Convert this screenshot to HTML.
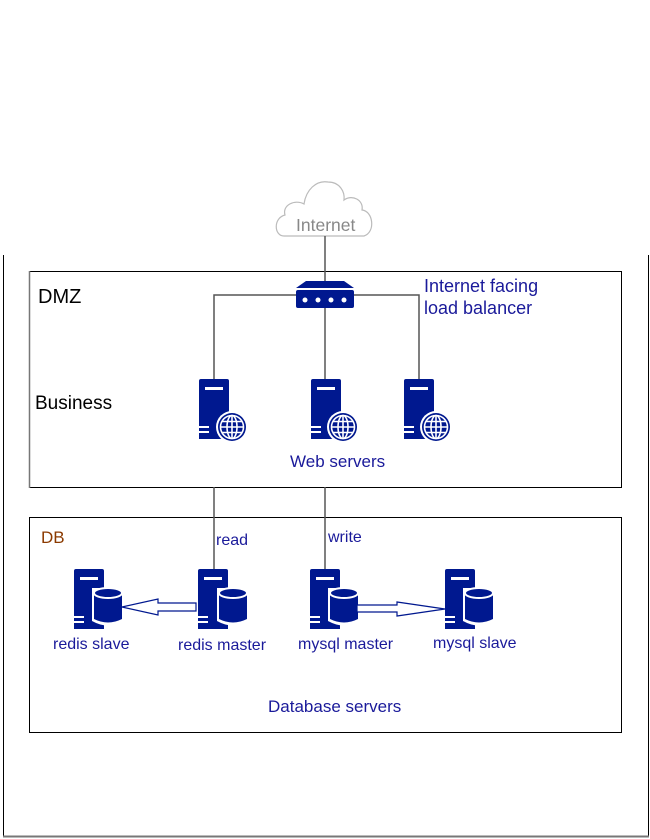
<!DOCTYPE html>
<html><head><meta charset="utf-8"><style>
html,body{margin:0;padding:0;background:#fff;width:650px;height:839px;overflow:hidden}
svg text{font-family:"Liberation Sans",sans-serif}
</style></head><body>
<svg width="650" height="839" viewBox="0 0 650 839" xmlns="http://www.w3.org/2000/svg">
<defs>
<g id="srv">
 <path d="M0,2 Q0,0 2,0 H28 Q30,0 30,2 V60 H0 Z" fill="#00188f"/>
 <rect x="6" y="8" width="18" height="3" fill="#fff"/>
 <rect x="0" y="47" width="10" height="2" fill="#fff"/>
 <rect x="0" y="52" width="10" height="2" fill="#fff"/>
</g>
<g id="globe">
 <circle r="16" fill="#fff"/>
 <circle r="14" fill="#00188f"/>
 <g fill="none" stroke="#fff" stroke-width="1.6">
  <circle r="11.5"/>
  <ellipse rx="5" ry="11.5"/>
  <line x1="0" y1="-11.5" x2="0" y2="11.5"/>
  <line x1="-11.5" y1="0" x2="11.5" y2="0"/>
  <line x1="-10" y1="-5.5" x2="10" y2="-5.5"/>
  <line x1="-10" y1="5.5" x2="10" y2="5.5"/>
 </g>
</g>
<g id="cyl">
 <path d="M-16,-17 V16 Q0,25 16,16 V-17 Z" fill="#fff"/>
 <path d="M-14,-12 V14 Q0,21 14,14 V-12 Z" fill="#00188f"/>
 <ellipse cx="0" cy="-12" rx="14" ry="5" fill="#00188f" stroke="#fff" stroke-width="2"/>
</g>
</defs>

<path d="M3.5,255 V836.5 H648.5 V255" fill="none" stroke="#000" stroke-width="1"/>
<line x1="3" y1="836.5" x2="649" y2="836.5" stroke="#777" stroke-width="2"/>

<rect x="29.5" y="271.5" width="592" height="216" fill="none" stroke="#000"/>
<line x1="29.5" y1="271" x2="29.5" y2="488" stroke="#777" stroke-width="1.5"/>
<rect x="29.5" y="517.5" width="592" height="215" fill="none" stroke="#000"/>

<path d="M284,236 C274,236 273,218 285,215 C282,205 295,199 304,204 C306,190 316,180 328,182 C340,182 345,192 344,200 C352,194 364,200 362,210 C373,211 376,232 364,236 Z" fill="#fff" stroke="#bbb" stroke-width="1.2"/>
<text x="296" y="231" font-size="17.5" fill="#888">Internet</text>

<g stroke="#555" stroke-width="1.5" fill="none">
 <line x1="325" y1="236" x2="325" y2="282"/>
 <polyline points="214,379 214,295 419,295 419,379"/>
 <line x1="325" y1="295" x2="325" y2="379"/>
 <line x1="214" y1="487" x2="214" y2="570"/>
 <line x1="325" y1="487" x2="325" y2="570"/>
</g>

<path d="M296,288 L306,281 H344 L354,288 Z" fill="#00188f"/>
<rect x="296" y="290" width="58" height="18" rx="2" fill="#00188f"/>
<g fill="#fff"><circle cx="305" cy="300" r="2.5"/><circle cx="318" cy="300" r="2.5"/><circle cx="331" cy="300" r="2.5"/><circle cx="344" cy="300" r="2.5"/></g>

<use href="#srv" x="199" y="379"/><use href="#globe" x="232" y="427"/>
<use href="#srv" x="311" y="379"/><use href="#globe" x="343" y="427"/>
<use href="#srv" x="404" y="379"/><use href="#globe" x="436" y="427"/>

<use href="#srv" x="74" y="569"/><use href="#cyl" x="108" y="605"/>
<use href="#srv" x="198" y="569"/><use href="#cyl" x="233" y="605"/>
<use href="#srv" x="310" y="569"/><use href="#cyl" x="344" y="605"/>
<use href="#srv" x="445" y="569"/><use href="#cyl" x="479" y="605"/>

<path d="M196,603 H158 V599 L122,607 L158,615 V611 H196 Z" fill="#fff" stroke="#00188f" stroke-width="1.2"/>
<path d="M357,605 H397 V602 L445,609 L397,616 V612 H357 Z" fill="#fff" stroke="#00188f" stroke-width="1.2"/>

<text x="38" y="303" font-size="20" fill="#000">DMZ</text>
<text x="35" y="409" font-size="19" fill="#000">Business</text>
<g fill="#1a1a9a" font-size="18">
 <text x="424" y="292">Internet facing</text>
 <text x="424" y="314">load balancer</text>
 <text x="290" y="467" font-size="17">Web servers</text>
 <text x="216" y="545" font-size="16">read</text>
 <text x="328" y="542" font-size="16">write</text>
 <text x="53" y="649" font-size="16">redis slave</text>
 <text x="178" y="650" font-size="16">redis master</text>
 <text x="298" y="649" font-size="16">mysql master</text>
 <text x="433" y="648" font-size="16">mysql slave</text>
 <text x="268" y="712" font-size="17">Database servers</text>
</g>
<text x="41" y="543" font-size="17" fill="#8b3a00">DB</text>
</svg>
</body></html>
